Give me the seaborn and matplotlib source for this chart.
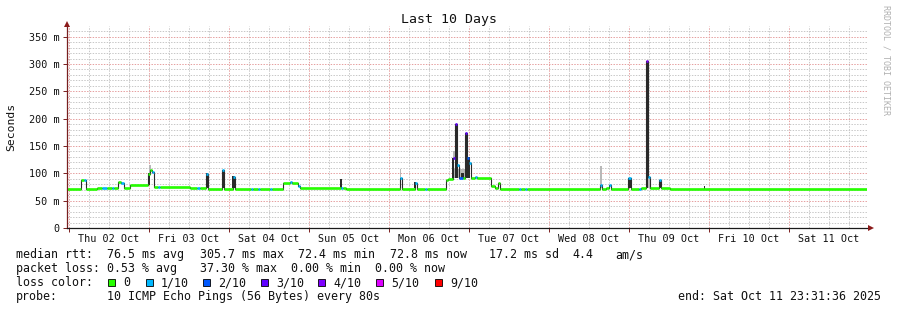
import matplotlib
matplotlib.use("Agg")
import matplotlib.pyplot as plt
from matplotlib.patches import Rectangle
import seaborn as sns

# ---------------- data ----------------
# hours since window start (Wed Oct 01 23:31:36 2025), 10 days = 240 h
median_start_h = [0.0, 4.2, 5.1, 5.7, 9.0, 10.5, 12.0, 13.5, 14.1, 15.3, 16.2, 17.1, 18.9,
                  24.3, 24.9, 25.5, 26.1, 27.3, 27.9, 36.9, 39.0, 39.9, 41.7, 42.3, 46.5,
                  47.1, 49.8, 50.4, 55.2, 55.8, 57.3, 57.9, 60.9, 61.5, 64.8, 66.9, 67.5,
                  69.3, 69.9, 82.2, 82.8, 83.7, 99.9, 100.5, 104.4, 105.0, 107.4, 108.0,
                  113.7, 114.3, 115.8, 116.4, 117.0, 117.6, 118.8, 119.4, 120.0, 120.6,
                  121.2, 122.4, 123.0, 127.2, 128.4, 129.3, 129.9, 135.6, 136.2, 137.4,
                  138.0, 159.9, 160.5, 161.7, 162.6, 163.2, 168.3, 169.2, 171.6, 172.2,
                  173.7, 174.3, 174.9, 177.6, 178.2, 180.9]
median_ms = [72, 88, 87, 72, 74, 74, 74, 74, 74, 84, 83, 74, 78,
             99, 106, 103, 75, 75, 75, 74, 73, 74, 99, 72, 106,
             72, 93, 72, 72, 72, 72, 72, 72, 72, 83, 84, 83,
             76, 73, 74, 73, 72, 91, 72, 83, 72, 72, 72,
             88, 90, 128, 190, 115, 92, 92, 174, 128, 119,
             92, 93, 92, 76, 73, 82, 72, 72, 72, 72,
             72, 78, 72, 74, 78, 72, 91, 72, 72, 74,
             305, 94, 74, 88, 74, 72]
median_loss = [0, 0, 1, 0, 0, 1, 0, 1, 0, 0, 1, 0, 0,
               0, 0, 1, 0, 1, 0, 0, 1, 0, 1, 0, 1,
               0, 1, 0, 1, 0, 1, 0, 1, 0, 0, 1, 0,
               1, 0, 1, 0, 0, 1, 0, 1, 0, 1, 0,
               0, 0, 3, 3, 1, 2, 0, 3, 2, 1,
               0, 1, 0, 0, 0, 0, 0, 1, 0, 1,
               0, 1, 0, 0, 1, 0, 1, 0, 1, 0,
               4, 1, 0, 1, 0, 0]

# smoke (spread of individual pings): core (dark) and outer (light)
smoke_t0 = [24.3, 41.7, 46.5, 49.5, 81.9, 104.1, 115.5, 116.4, 117.0, 118.2, 119.4, 120.0,
            168.3, 173.7, 177.6, 191.1]
smoke_t1 = [24.9, 42.3, 47.1, 50.4, 82.5, 104.7, 115.8, 117.0, 117.3, 119.1, 120.0, 120.9,
            169.2, 174.3, 178.2, 191.4]
smoke_lo = [78, 73, 73, 73, 73, 73, 90, 92, 92, 92, 92, 92, 73, 73, 73, 72]
smoke_hi = [100, 100, 107, 95, 90, 84, 128, 190, 130, 100, 174, 130, 91, 305, 88, 76]

outer_t0 = [24.6, 99.9, 115.8, 115.8, 159.9, 174.3]
outer_t1 = [25.2, 100.2, 116.4, 120.9, 160.5, 174.9]
outer_lo = [100, 73, 128, 92, 73, 73]
outer_hi = [115, 108, 140, 108, 114, 95]

day_labels = ["Thu 02 Oct", "Fri 03 Oct", "Sat 04 Oct", "Sun 05 Oct", "Mon 06 Oct",
              "Tue 07 Oct", "Wed 08 Oct", "Thu 09 Oct", "Fri 10 Oct", "Sat 11 Oct"]
y_ticks = [0, 50, 100, 150, 200, 250, 300, 350]
y_tick_labels = ["0", "50 m", "100 m", "150 m", "200 m", "250 m", "300 m", "350 m"]

loss_levels = [0, 1, 2, 3, 4, 5, 9]
loss_labels = ["0", "1/10", "2/10", "3/10", "4/10", "5/10", "9/10"]
loss_colors = ["#26ff00", "#00b8ff", "#0059ff", "#5e00ff", "#7e00ff", "#dd00ff", "#ff0000"]

title = "Last 10 Days"
rtt_label = "median rtt:"
rtt_items = ["76.5 ms avg", "305.7 ms max", "72.4 ms min", "72.8 ms now", "17.2 ms sd", "4.4", "am/s"]
loss_label = "packet loss:"
loss_items = ["0.53 % avg", "37.30 % max", "0.00 % min", "0.00 % now"]
probe_label = "probe:"
probe_text = "10 ICMP Echo Pings (56 Bytes) every 80s"
end_text = "end: Sat Oct 11 23:31:36 2025"
watermark = "RRDTOOL / TOBI OETIKER"

first_midnight_h = 28.4 / 60.0
total_h = 240

# ---------------- style ----------------
sns.set_style("white")
MONO = ["DejaVu Sans Mono"]
plt.rcParams["font.family"] = MONO

W, H = 897, 310
fig = plt.figure(figsize=(W / 100, H / 100), dpi=100)
fig.patch.set_facecolor("white")
px_per_ms = 191.3 / 350
ax = fig.add_axes([67 / W, (H - 228) / H, 800 / W, 202 / H])
ax.set_facecolor("white")
ax.set_xlim(0, total_h)
ax.set_ylim(0, 202 / px_per_ms)

minor_c = "#c8c8c8"
major_c = "#e6a0a0"
dots = (0, (1.4, 1.4))
for k in range(0, 41):
    t = first_midnight_h + 6 * k
    if t > total_h:
        break
    if k % 4 == 0:
        continue
    ax.axvline(t, color=minor_c, lw=0.72, ls=dots, zorder=0)
for v in range(10, 370, 10):
    if v % 50:
        ax.axhline(v, color=minor_c, lw=0.72, ls=dots, zorder=0)
for k in range(0, 10):
    ax.axvline(first_midnight_h + 24 * k, color=major_c, lw=0.72, ls=dots, zorder=0.5)
for v in range(50, 400, 50):
    ax.axhline(v, color=major_c, lw=0.72, ls=dots, zorder=0.5)

# smoke
ax.bar(outer_t0, [h - l for h, l in zip(outer_hi, outer_lo)], bottom=outer_lo,
       width=[b - a for a, b in zip(outer_t0, outer_t1)], align="edge",
       color="#b8b8b8", linewidth=0, zorder=2)
ax.bar(smoke_t0, [h - l for h, l in zip(smoke_hi, smoke_lo)], bottom=smoke_lo,
       width=[b - a for a, b in zip(smoke_t0, smoke_t1)], align="edge",
       color="#2a2a2a", linewidth=0, zorder=2)

# median: dark step connectors, then loss-coloured segments
xs = list(median_start_h) + [total_h]
ys = list(median_ms) + [median_ms[-1]]
sns.lineplot(x=xs, y=ys, drawstyle="steps-post", color="#2a2a2a", linewidth=0.8,
             ax=ax, zorder=3, sort=False, estimator=None)
ends = list(median_start_h[1:]) + [total_h]
cmap = dict(zip(loss_levels, loss_colors))
for t0, t1, v, l in zip(median_start_h, ends, median_ms, median_loss):
    ax.plot([t0, t1], [v, v], color=cmap[l], lw=1.9, solid_capstyle="butt", zorder=4)

# axes
for s in ["top", "right"]:
    ax.spines[s].set_visible(False)
ax.spines["left"].set_color("#7a1f1f")
ax.spines["bottom"].set_color("#1a1a1a")
ax.spines["left"].set_linewidth(0.9)
ax.spines["bottom"].set_linewidth(0.9)
ax.spines["left"].set_zorder(5)
ax.spines["bottom"].set_zorder(5)

ax.set_yticks(y_ticks)
ax.set_yticklabels(y_tick_labels, fontsize=7.3, family=MONO, color="#111111")
ax.tick_params(axis="y", length=3, width=0.7, color="#7a1f1f", pad=2.5, left=True)
ax.set_xticks([first_midnight_h + 12 + 24 * k for k in range(10)])
ax.set_xticklabels(day_labels, fontsize=7.3, family=MONO, color="#111111")
ax.tick_params(axis="x", length=0, pad=4.5, bottom=True)
ax.set_xticks([first_midnight_h + 24 * k for k in range(10)], minor=True)
ax.tick_params(axis="x", which="minor", length=3, width=0.7, color="#7a1f1f",
               direction="out", bottom=True)
ax.set_xlabel("")
ax.set_ylabel("")

# arrows
ax.plot([0], [1 + 2.2 / 202], marker="^", ms=4.5, color="#8b1a1a", transform=ax.transAxes,
        clip_on=False, zorder=6, markeredgewidth=0)
ax.plot([1 + 4 / 800], [0], marker=">", ms=4.5, color="#8b1a1a", transform=ax.transAxes,
        clip_on=False, zorder=6, markeredgewidth=0)


def fx(x):
    return x / W


def fy(y):
    return 1 - y / H


fig.text(fx(448.5), fy(23.5), title, fontsize=9.5, family=MONO, ha="center",
         va="baseline", color="#111111")
fig.text(fx(11), fy(127), "Seconds", fontsize=8.2, family=MONO, rotation=90,
         ha="center", va="center", color="#111111")
fig.text(fx(886), fy(60), watermark, fontsize=6, family=MONO, rotation=270,
         ha="center", va="center", color="#b0b0b0")

FS = 8.35
tc = "#111111"
base = [258, 272, 286, 300]
fig.text(fx(16), fy(base[0]), rtt_label, fontsize=FS, family=MONO, color=tc)
for xp, s in zip([107, 200, 298, 390, 489, 572, 615], rtt_items):
    fig.text(fx(xp), fy(base[0]), s, fontsize=FS, family=MONO, color=tc)
fig.text(fx(16), fy(base[1]), loss_label, fontsize=FS, family=MONO, color=tc)
for xp, s in zip([107, 200, 291, 375], loss_items):
    fig.text(fx(xp), fy(base[1]), s, fontsize=FS, family=MONO, color=tc)
fig.text(fx(16), fy(base[2]), "loss color:", fontsize=FS, family=MONO, color=tc)
for xp, lab, col in zip([108, 146, 203, 261, 318, 376, 435], loss_labels, loss_colors):
    fig.add_artist(Rectangle((fx(xp), fy(285.5)), 7 / W, 7 / H, transform=fig.transFigure,
                             facecolor=col, edgecolor="#000000", linewidth=0.6))
    fig.text(fx(xp + 15), fy(base[2]), lab, fontsize=FS, family=MONO, color=tc)
fig.text(fx(16), fy(base[3]), probe_label, fontsize=FS, family=MONO, color=tc)
fig.text(fx(107), fy(base[3]), probe_text, fontsize=FS, family=MONO, color=tc)
fig.text(fx(881), fy(base[3]), end_text, fontsize=FS, family=MONO, color=tc, ha="right")

fig.savefig("out.png", dpi=100, facecolor="white")
